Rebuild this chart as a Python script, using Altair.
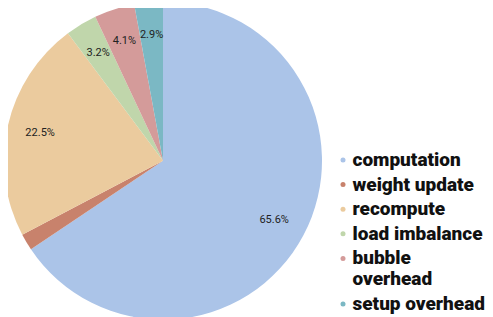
import altair as alt
import pandas as pd

categories = ["computation", "weight update", "recompute", "load imbalance",
              "bubble overhead", "setup overhead"]
shares = [65.6, 1.7, 22.5, 3.2, 4.1, 2.9]
labels = ["65.6%", "", "22.5%", "3.2%", "4.1%", "2.9%"]
colors = ["#abc4e8", "#c8826c", "#ebcb9e", "#c0d6ab", "#d49b9a", "#7bb8c4"]

df = pd.DataFrame({"category": categories, "share": shares, "label": labels,
                   "order": list(range(len(categories)))})

cx, cy, R = 155, 152.7, 159

base = alt.Chart(df).encode(
    theta=alt.Theta("share:Q", stack=True),
    order=alt.Order("order:Q"),
)

pie = base.mark_arc(stroke=None).encode(
    x=alt.value(cx), y=alt.value(cy),
    radius=alt.value(R),
    color=alt.Color("category:N", sort=categories,
                    scale=alt.Scale(domain=categories, range=colors),
                    legend=alt.Legend(
                        title=None, orient="none", legendX=325.5, legendY=142.5,
                        symbolType="circle", symbolSize=25, symbolStrokeWidth=0,
                        labelFont="Roboto", labelFontSize=19, labelFontWeight=900,
                        labelColor="#111111", labelOffset=0, rowPadding=4.6,
                        labelLimit=200, padding=0,
                        labelExpr="datum.label == 'bubble overhead' ? ['bubble', 'overhead'] : datum.label",
                    )),
)

text = base.mark_text(font="Roboto", fontSize=11, color="#222222",
                      align="center", baseline="middle").encode(
    x=alt.value(cx), y=alt.value(cy),
    radius=alt.value(126),
    text="label:N",
)

chart = alt.layer(pie, text).properties(
    width=477, height=309,
    autosize=alt.AutoSizeParams(type="none"),
    padding=0,
).configure_view(stroke=None)

chart.save("out.html", embed_options={"renderer": "svg", "actions": False})
